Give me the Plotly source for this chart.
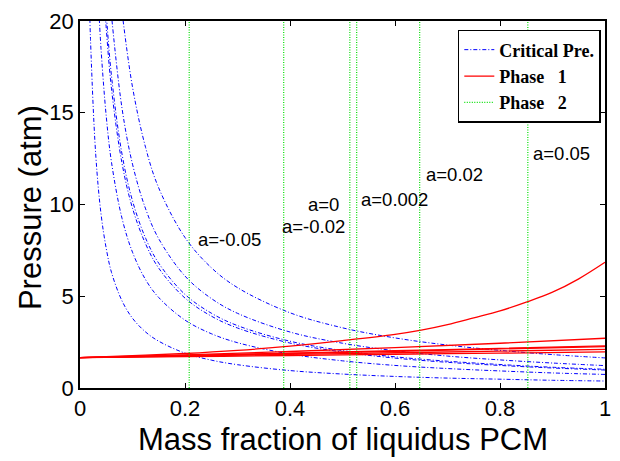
import plotly.graph_objects as go

# ---------------- data ----------------
a_labels = ["a=-0.05", "a=-0.02", "a=0", "a=0.002", "a=0.02", "a=0.05"]

# Critical pressure curves (blue dash-dot), one per a
crit_x = [
    [0.018, 0.02, 0.03, 0.04, 0.05, 0.06, 0.08, 0.1, 0.125, 0.15, 0.2, 0.25, 0.3, 0.4, 0.5, 0.6, 0.7, 0.8, 0.9, 1.0],
    [0.035, 0.04, 0.05, 0.06, 0.08, 0.1, 0.125, 0.15, 0.2, 0.25, 0.3, 0.4, 0.5, 0.6, 0.7, 0.8, 0.9, 1.0],
    [0.046, 0.05, 0.06, 0.08, 0.1, 0.125, 0.15, 0.2, 0.25, 0.3, 0.4, 0.5, 0.6, 0.7, 0.8, 0.9, 1.0],
    [0.048, 0.05, 0.06, 0.08, 0.1, 0.125, 0.15, 0.2, 0.25, 0.3, 0.4, 0.5, 0.6, 0.7, 0.8, 0.9, 1.0],
    [0.058, 0.06, 0.08, 0.1, 0.125, 0.15, 0.2, 0.25, 0.3, 0.4, 0.5, 0.6, 0.7, 0.8, 0.9, 1.0],
    [0.078, 0.08, 0.1, 0.125, 0.15, 0.2, 0.25, 0.3, 0.4, 0.5, 0.6, 0.7, 0.8, 0.9, 1.0],
]
crit_p = [
    [21.1, 19.0, 12.7, 9.5, 7.6, 6.3, 4.75, 3.8, 3.05, 2.55, 1.9, 1.52, 1.27, 0.95, 0.76, 0.63, 0.54, 0.48, 0.42, 0.38],
    [21.1, 18.5, 14.8, 12.3, 9.25, 7.4, 5.9, 4.93, 3.7, 2.96, 2.47, 1.85, 1.48, 1.23, 1.06, 0.93, 0.82, 0.74],
    [21.3, 19.6, 16.3, 12.25, 9.8, 7.85, 6.53, 4.9, 3.92, 3.27, 2.45, 1.96, 1.63, 1.4, 1.23, 1.09, 0.98],
    [21.2, 20.4, 17.0, 12.75, 10.2, 8.16, 6.8, 5.1, 4.08, 3.4, 2.55, 2.04, 1.7, 1.46, 1.28, 1.13, 1.02],
    [21.0, 20.3, 15.25, 12.2, 9.76, 8.13, 6.1, 4.88, 4.07, 3.05, 2.44, 2.03, 1.74, 1.53, 1.36, 1.22],
    [21.0, 20.5, 16.4, 13.1, 10.9, 8.2, 6.56, 5.47, 4.1, 3.28, 2.73, 2.34, 2.05, 1.82, 1.64],
]

# Phase 1 curves (red solid), one per a
ph1_x = [
    [0, 0.2, 0.4, 0.6, 0.8, 1.0],
    [0, 0.2, 0.4, 0.6, 0.8, 1.0],
    [0, 0.2, 0.4, 0.6, 0.8, 1.0],
    [0, 0.2, 0.4, 0.6, 0.8, 1.0],
    [0, 0.2, 0.4, 0.6, 0.8, 1.0],
    [0, 0.1, 0.2, 0.3, 0.4, 0.5, 0.6, 0.65, 0.7, 0.75, 0.8, 0.85, 0.9, 0.95, 1.0],
]
ph1_p = [
    [1.65, 1.71, 1.77, 1.84, 1.90, 1.97],
    [1.65, 1.74, 1.83, 1.92, 2.01, 2.11],
    [1.65, 1.76, 1.88, 2.00, 2.13, 2.26],
    [1.65, 1.77, 1.90, 2.03, 2.16, 2.30],
    [1.65, 1.80, 1.99, 2.20, 2.44, 2.71],
    [1.65, 1.76, 1.88, 2.05, 2.28, 2.58, 2.92, 3.15, 3.45, 3.82, 4.20, 4.68, 5.22, 5.95, 6.85],
]

# Phase 2 boundaries (green dotted vertical lines)
ph2_x = [0.208, 0.388, 0.514, 0.527, 0.647, 0.853]
ph2_p = [0, 20]

# label positions (data coords)
lab_x = [0.22, 0.38, 0.498, 0.532, 0.655, 0.859]
lab_y = [8.08, 8.78, 10.01, 10.28, 11.64, 12.79]
lab_anchor = ["left", "left", "right", "left", "left", "left"]

x_ticks = [0, 0.2, 0.4, 0.6, 0.8, 1]
x_ticktext = ["0", "0.2", "0.4", "0.6", "0.8", "1"]
y_ticks = [0, 5, 10, 15, 20]

legend_names = ["<b>Critical Pre.</b>", "<b>Phase\u00a0\u00a0\u00a01</b>", "<b>Phase\u00a0\u00a0\u00a02</b>"]

# ---------------- figure ----------------
fig = go.Figure()

for i in range(len(crit_x)):
    fig.add_trace(go.Scatter(
        x=crit_x[i], y=crit_p[i], mode="lines", line_shape="spline",
        line=dict(color="#0000ff", width=1, dash="4px,2px,1px,2px"),
        name=legend_names[0], legendgroup="crit", showlegend=(i == 0)))

for i in range(len(ph1_x)):
    fig.add_trace(go.Scatter(
        x=ph1_x[i], y=ph1_p[i], mode="lines", line_shape="spline",
        line=dict(color="#ff0000", width=1.3),
        name=legend_names[1], legendgroup="ph1", showlegend=(i == 0)))

for i, xv in enumerate(ph2_x):
    fig.add_trace(go.Scatter(
        x=[xv, xv], y=ph2_p, mode="lines",
        line=dict(color="#00e000", width=1.2, dash="1px,1.5px"),
        name=legend_names[2], legendgroup="ph2", showlegend=(i == 0)))

for t, xx, yy, anc in zip(a_labels, lab_x, lab_y, lab_anchor):
    fig.add_annotation(x=xx, y=yy, xref="x", yref="y", text=t, showarrow=False,
                       xanchor=anc, yanchor="middle",
                       font=dict(family="Liberation Sans, Arial", size=18.5, color="black"))

# axis titles
fig.add_annotation(x=0.5, y=-0.141, xref="paper", yref="paper", text="Mass fraction of liquidus PCM",
                   showarrow=False, xanchor="center", yanchor="middle",
                   font=dict(family="Liberation Sans, Arial", size=31, color="black"))
fig.add_annotation(x=-0.094, y=0.492, xref="paper", yref="paper", text="Pressure (atm)",
                   showarrow=False, xanchor="center", yanchor="middle", textangle=-90,
                   font=dict(family="Liberation Sans, Arial", size=31, color="black"))

axis_common = dict(showline=True, linecolor="black", linewidth=1.5, mirror="ticks",
                   ticks="inside", ticklen=5, tickcolor="black", tickwidth=1,
                   showgrid=False, zeroline=False,
                   tickfont=dict(family="Liberation Sans, Arial", size=22, color="black"))

fig.update_layout(
    width=620, height=461,
    margin=dict(l=80, r=9, t=19, b=73),
    paper_bgcolor="white", plot_bgcolor="white",
    xaxis=dict(range=[0, 1], tickvals=x_ticks, ticktext=x_ticktext, **axis_common),
    yaxis=dict(range=[0, 20], tickvals=y_ticks, **axis_common),
    legend=dict(x=0.992, y=0.9756, xanchor="right", yanchor="top",
                bgcolor="white", bordercolor="black", borderwidth=1.5,
                font=dict(family="Liberation Serif, Times New Roman", size=18, color="black"),
                traceorder="normal", tracegroupgap=0, itemwidth=30),
    showlegend=True,
)

fig.write_html("out.html")
